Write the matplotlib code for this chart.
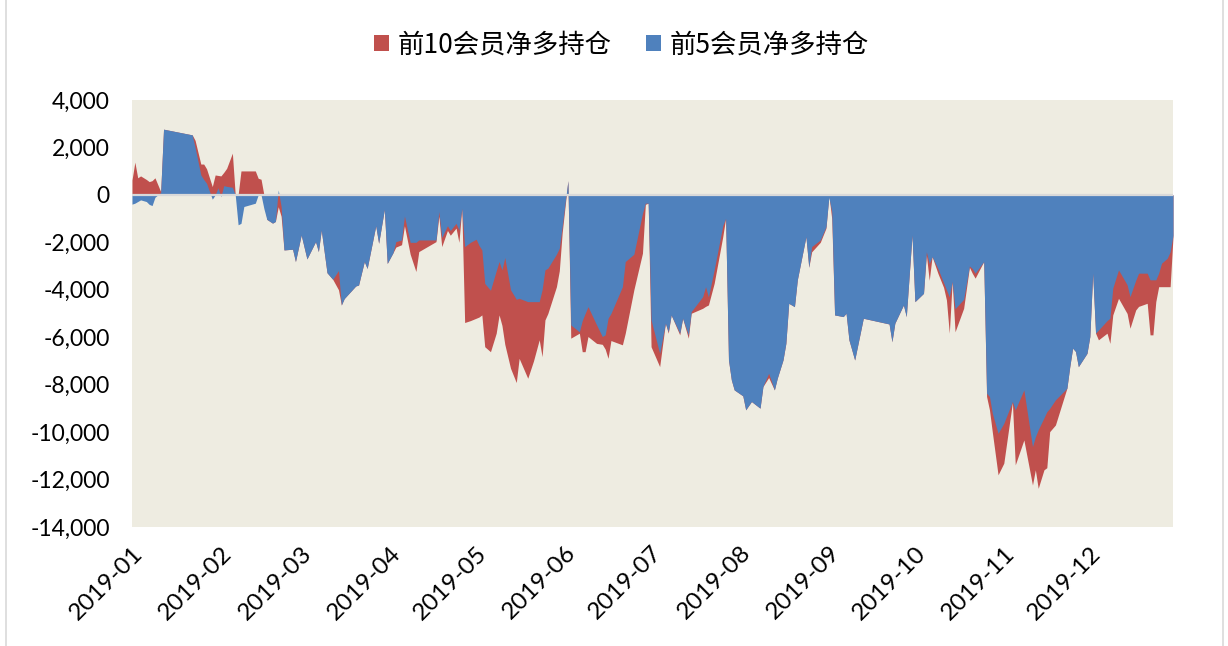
import matplotlib
matplotlib.use("Agg")
import matplotlib.pyplot as plt
from matplotlib.patches import Patch
from matplotlib.lines import Line2D
from matplotlib.ticker import FuncFormatter
import pandas as pd

# ---------------- data ----------------
dates = [
    "2019-01-02", "2019-01-03", "2019-01-04", "2019-01-05", "2019-01-07", "2019-01-08", "2019-01-09",
    "2019-01-10", "2019-01-11", "2019-01-12", "2019-01-13", "2019-01-23", "2019-01-24", "2019-01-26",
    "2019-01-27", "2019-01-28", "2019-01-30", "2019-01-31", "2019-02-01", "2019-02-02", "2019-02-03",
    "2019-02-04", "2019-02-06", "2019-02-07", "2019-02-08", "2019-02-09", "2019-02-10", "2019-02-14",
    "2019-02-15", "2019-02-16", "2019-02-17", "2019-02-18", "2019-02-20", "2019-02-21", "2019-02-22",
    "2019-02-23", "2019-02-24", "2019-02-27", "2019-02-28", "2019-03-02", "2019-03-04", "2019-03-07",
    "2019-03-08", "2019-03-09", "2019-03-11", "2019-03-13", "2019-03-15", "2019-03-16", "2019-03-17",
    "2019-03-21", "2019-03-22", "2019-03-24", "2019-03-25", "2019-03-28", "2019-03-29", "2019-03-31",
    "2019-04-01", "2019-04-03", "2019-04-04", "2019-04-06", "2019-04-07", "2019-04-09", "2019-04-11",
    "2019-04-12", "2019-04-18", "2019-04-19", "2019-04-20", "2019-04-22", "2019-04-23", "2019-04-25",
    "2019-04-26", "2019-04-27", "2019-04-28", "2019-04-30", "2019-05-02", "2019-05-03", "2019-05-04",
    "2019-05-05", "2019-05-07", "2019-05-09", "2019-05-10", "2019-05-11", "2019-05-12", "2019-05-14",
    "2019-05-16", "2019-05-17", "2019-05-20", "2019-05-22", "2019-05-24", "2019-05-25", "2019-05-26",
    "2019-05-27", "2019-05-30", "2019-05-31", "2019-06-01", "2019-06-03", "2019-06-04", "2019-06-07",
    "2019-06-08", "2019-06-09", "2019-06-10", "2019-06-13", "2019-06-15", "2019-06-16", "2019-06-17",
    "2019-06-18", "2019-06-22", "2019-06-23", "2019-06-26", "2019-06-29", "2019-06-30", "2019-07-01",
    "2019-07-02", "2019-07-05", "2019-07-07", "2019-07-08", "2019-07-09", "2019-07-12", "2019-07-13",
    "2019-07-15", "2019-07-16", "2019-07-20", "2019-07-21", "2019-07-22", "2019-07-24", "2019-07-27",
    "2019-07-28", "2019-07-29", "2019-07-30", "2019-07-31", "2019-08-03", "2019-08-04", "2019-08-06",
    "2019-08-09", "2019-08-10", "2019-08-12", "2019-08-14", "2019-08-15", "2019-08-17", "2019-08-18",
    "2019-08-19", "2019-08-21", "2019-08-22", "2019-08-25", "2019-08-26", "2019-08-27", "2019-08-30",
    "2019-09-01", "2019-09-02", "2019-09-03", "2019-09-04", "2019-09-07", "2019-09-08", "2019-09-09",
    "2019-09-11", "2019-09-14", "2019-09-23", "2019-09-24", "2019-09-25", "2019-09-28", "2019-09-29",
    "2019-10-01", "2019-10-02", "2019-10-05", "2019-10-06", "2019-10-07", "2019-10-08", "2019-10-10",
    "2019-10-12", "2019-10-13", "2019-10-14", "2019-10-15", "2019-10-16", "2019-10-19", "2019-10-21",
    "2019-10-22", "2019-10-23", "2019-10-26", "2019-10-27", "2019-10-28", "2019-10-29", "2019-10-31",
    "2019-11-02", "2019-11-05", "2019-11-06", "2019-11-09", "2019-11-12", "2019-11-13", "2019-11-14",
    "2019-11-16", "2019-11-17", "2019-11-18", "2019-11-20", "2019-11-24", "2019-11-25", "2019-11-26",
    "2019-11-27", "2019-11-28", "2019-12-01", "2019-12-02", "2019-12-03", "2019-12-04", "2019-12-05",
    "2019-12-08", "2019-12-09", "2019-12-10", "2019-12-12", "2019-12-15", "2019-12-16", "2019-12-18",
    "2019-12-19", "2019-12-22", "2019-12-23", "2019-12-24", "2019-12-25", "2019-12-26", "2019-12-27",
    "2019-12-29", "2019-12-30", "2019-12-31",
]

# 前5会员净多持仓 (top 5 members net long)
top5 = [
    -390, -350, -280, -210, -280, -400, -450,
    -100, 0, 100, 2770, 2530, 2000, 840,
    650, 490, -180, 0, 300, -70, 390,
    360, 320, 0, -1260, -1200, -490, -350,
    0, 0, -580, -1030, -1190, -1120, 210,
    -490, -2320, -2290, -2810, -1690, -2700, -1970,
    -2390, -1480, -3280, -3560, -3190, -4640, -4370,
    -3840, -3800, -2810, -3100, -1300, -2040, -610,
    -2890, -2440, -1970, -1900, -890, -2000, -2000,
    -1900, -1900, -700, -1800, -1300, -1500, -1200,
    -1480, -570, -2180, -2000, -1870, -2130, -2320,
    -3730, -4020, -3200, -2810, -3160, -2640, -4000,
    -4400, -4360, -4500, -4500, -4500, -4000, -3160,
    -3090, -2500, -2250, -1340, 600, -5480, -5770,
    -5300, -5000, -4710, -5480, -5970, -5900, -5200,
    -5000, -3870, -2810, -2500, -780, -350, -350,
    -5270, -6680, -5410, -5770, -5060, -5830, -5200,
    -5900, -4920, -4290, -3870, -4300, -3160, -1300,
    -990, -6960, -7800, -8220, -8470, -9060, -8710,
    -8990, -8080, -7520, -8220, -7730, -6960, -6260,
    -4570, -4710, -3580, -1760, -3050, -2180, -1900,
    -1340, -100, -700, -5060, -5130, -4990, -6110,
    -6960, -5200, -5440, -6190, -5410, -4640, -5130,
    -1690, -4500, -4150, -2400, -2900, -2600, -3100,
    -3700, -4000, -4300, -3650, -4800, -4400, -3000,
    -3100, -3300, -2810, -8360, -8500, -9200, -10050,
    -9630, -8710, -9060, -8220, -10610, -10200, -9900,
    -9400, -9140, -9000, -8640, -8150, -7240, -6460,
    -6600, -7240, -6680, -5970, -3300, -5830, -5700,
    -5300, -5200, -3930, -3160, -3790, -4290, -3600,
    -3300, -3300, -3580, -3580, -3580, -3300, -2880,
    -2670, -2400, -1700,
]

# 前10会员净多持仓 (top 10 members net long)
top10 = [
    630, 1380, 720, 800, 650, 560, 600,
    720, 430, 140, 2770, 2530, 2300, 1300,
    1300, 1100, 350, 840, 820, 800, 950,
    1120, 1760, 0, 0, 1010, 1010, 1010,
    700, 660, 0, -1030, -1190, -1120, -500,
    -900, -2320, -2290, -2810, -1690, -2700, -1970,
    -2390, -1480, -3280, -3560, -4000, -4640, -4370,
    -3840, -3800, -2810, -3100, -1300, -2040, -610,
    -2890, -2440, -2200, -2100, -1300, -2500, -3230,
    -2390, -1970, -900, -2180, -1500, -1700, -1400,
    -2000, -570, -5380, -5300, -5200, -5150, -5060,
    -6400, -6610, -5830, -5060, -5500, -6300, -7310,
    -7910, -6890, -7730, -7000, -6110, -6820, -5270,
    -5000, -3870, -3200, -1600, 600, -6040, -5830,
    -6610, -6610, -5970, -6260, -6300, -6500, -6890,
    -6140, -6320, -5830, -4000, -2460, -400, -350,
    -6400, -7240, -5410, -5830, -5060, -5900, -5200,
    -6040, -4990, -4780, -4700, -4640, -3730, -1760,
    -990, -6960, -7800, -8220, -8470, -9060, -8710,
    -8990, -8080, -7700, -8220, -7730, -6960, -6260,
    -4570, -4710, -3580, -1760, -3050, -2400, -2000,
    -1400, 0, -1000, -5060, -5130, -4990, -6110,
    -6960, -5200, -5440, -6190, -5410, -4640, -5130,
    -1690, -4500, -4150, -2530, -3600, -2600, -3300,
    -3900, -4430, -5830, -3650, -5770, -4780, -3050,
    -3300, -3510, -2810, -8500, -9060, -10000, -11800,
    -11310, -8750, -11380, -10330, -12230, -11590, -12370,
    -11590, -11500, -9980, -9700, -8150, -7240, -6460,
    -6600, -7240, -6680, -5970, -3300, -5830, -6110,
    -5830, -6260, -5060, -4360, -5000, -5620, -4850,
    -4700, -4570, -5900, -5900, -4500, -3870, -3870,
    -3870, -3870, -1770,
]

series_labels = ["前10会员净多持仓", "前5会员净多持仓"]
month_ticks = ["2019-01-02", "2019-02-02", "2019-03-02", "2019-04-02", "2019-05-02", "2019-06-02",
               "2019-07-02", "2019-08-02", "2019-09-02", "2019-10-02", "2019-11-02", "2019-12-02"]
y_ticks = [4000, 2000, 0, -2000, -4000, -6000, -8000, -10000, -12000, -14000]

# ---------------- style ----------------
RED = "#C0504D"
BLUE = "#4F81BD"
BG = "#EEECE1"
TICK_FONT = ["Lato", "DejaVu Sans"]
CJK_FONT = ["Noto Sans CJK SC", "DejaVu Sans"]

x = pd.to_datetime(dates)

fig = plt.figure(figsize=(12.28, 6.46), dpi=100, facecolor="white")
ax = fig.add_axes([132 / 1228, 1 - 527 / 646, (1173 - 132) / 1228, (527 - 100) / 646])
ax.set_facecolor(BG)

ax.fill_between(x, 0, top10, color=RED, linewidth=0, zorder=2)
ax.fill_between(x, 0, top5, color=BLUE, linewidth=0, zorder=2.5)
ax.axhline(0, color="#D9D9D9", linewidth=1.6, zorder=3)

ax.set_xlim(pd.Timestamp("2019-01-02"), pd.Timestamp("2019-12-31"))
ax.set_ylim(-14000, 4000)
ax.set_yticks(y_ticks)
ax.yaxis.set_major_formatter(FuncFormatter(lambda v, p: f"{v:,.0f}"))
tick_pos = pd.to_datetime(month_ticks)
ax.set_xticks(tick_pos)
ax.set_xticklabels([t.strftime("%Y-%m") for t in tick_pos])

for s in ax.spines.values():
    s.set_visible(False)
ax.tick_params(axis="both", length=0)
ax.tick_params(axis="y", pad=16)
ax.tick_params(axis="x", pad=11)
for lab in ax.get_yticklabels():
    lab.set_fontfamily(TICK_FONT)
    lab.set_fontsize(16.5)
    lab.set_color("#000000")
for lab in ax.get_xticklabels():
    lab.set_fontfamily(TICK_FONT)
    lab.set_fontsize(17.5)
    lab.set_rotation(45)
    lab.set_ha("right")
    lab.set_va("top")
    lab.set_rotation_mode("anchor")
    lab.set_color("#000000")

handles = [Patch(facecolor=RED, edgecolor="none"), Patch(facecolor=BLUE, edgecolor="none")]
leg = fig.legend(handles, series_labels, loc="center", bbox_to_anchor=(0.5063, 1 - 45 / 646),
                 ncol=2, frameon=False, handlelength=0.55, handleheight=0.55, handletextpad=0.35,
                 columnspacing=1.3, prop={"family": CJK_FONT, "size": 19})

# chart-area border lines (left/right)
fig.add_artist(Line2D([6 / 1228, 6 / 1228], [0, 1], color="#D9D9D9", linewidth=1.2))
fig.add_artist(Line2D([1223 / 1228, 1223 / 1228], [0, 1], color="#D9D9D9", linewidth=1.2))

fig.savefig("out.png", dpi=100, facecolor="white")
